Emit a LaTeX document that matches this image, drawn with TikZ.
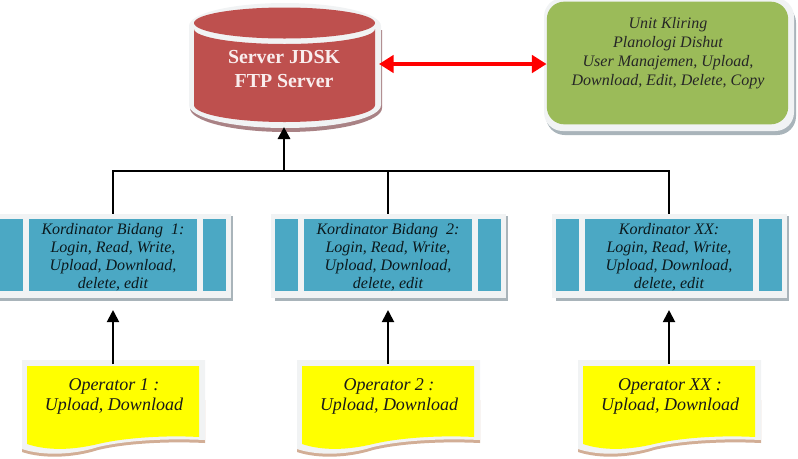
\documentclass[tikz,border=0pt]{standalone}
\usepackage{fontspec}
\setmainfont{Liberation Serif}
\usetikzlibrary{arrows.meta}
\definecolor{cred}{HTML}{BE504E}
\definecolor{cgreen}{HTML}{9BBB59}
\definecolor{cblue}{HTML}{4BA8C4}
\definecolor{rim}{HTML}{F1F3F4}
\definecolor{docshadow}{HTML}{D2AE96}
\definecolor{cylshadow}{HTML}{A98285}
\definecolor{cyellow}{HTML}{FFFF00}
\definecolor{boxshadow}{HTML}{A9B4BA}
\tikzset{
  x=0.75pt,y=-0.75pt,
  cell/.style={fill=cblue,draw=none,inner sep=0pt,minimum width=126pt,minimum height=54pt,align=center,font=\itshape\fontsize{12}{13.6}\selectfont,text=black!85!cblue},
  optext/.style={inner sep=0pt,align=center,font=\itshape\fontsize{13.5}{15}\selectfont,text=black!90},
  blackline/.style={draw=black,line width=1.5pt},
  blackarrow/.style={draw=black,line width=1.5pt,-{Triangle[length=9pt,width=9pt]}},
  redarrow/.style={draw=red,line width=3.2pt,{Triangle[length=11pt,width=13pt]}-{Triangle[length=11pt,width=13pt]}},
}
\newcommand{\kordbox}[3]{%
  \fill[boxshadow] (#1-113,216) rectangle (#1+120,301);
  \fill[rim] (#1-117,214) rectangle (#1+118,298);
  \fill[cblue] (#1-113,219) rectangle (#1-90,291);
  \fill[cblue] (#1+90,219) rectangle (#1+113,291);
  \node[cell] (#2) at (#1,255) {\rule{0pt}{11.5pt}#3};
}
\newcommand{\opdoc}[3]{%
  \fill[docshadow] (#1-91,400) -- (#1+92,400) -- (#1+92,443)
     .. controls (#1+50,441) and (#1+10,444) .. (#1-15,450)
     .. controls (#1-40,458) and (#1-70,459) .. (#1-91,452) -- cycle;
  \fill[rim] (#1-91,360) -- (#1+92,360) -- (#1+92,440)
     .. controls (#1+50,438) and (#1+10,441) .. (#1-15,447)
     .. controls (#1-40,455) and (#1-70,456) .. (#1-91,449) -- cycle;
  \fill[cyellow] (#1-86,366) -- (#1+86,366) -- (#1+86,437)
     .. controls (#1+50,435) and (#1+10,438) .. (#1-15,444)
     .. controls (#1-40,450) and (#1-65,451) .. (#1-86,444) -- cycle;
  \node[optext] (#2) at (#1+1,396) {#3};
  \coordinate (#2top) at (#1,364);
}
\begin{document}
\begin{tikzpicture}
\useasboundingbox (0,0) rectangle (798,458);
% cylinder
\fill[cylshadow] (190,30) -- (190,108) arc[start angle=180,end angle=0,x radius=96,y radius=24] -- (382,30) -- cycle;
\fill[rim] (189,26) -- (189,105) arc[start angle=180,end angle=0,x radius=96,y radius=23] -- (381,26)
  arc[start angle=0,end angle=-180,x radius=96,y radius=23] -- cycle;
\fill[cred] (194,29) arc[start angle=180,end angle=0,x radius=90.5,y radius=15] -- (375,105)
  arc[start angle=0,end angle=180,x radius=90.5,y radius=17] -- cycle;
\fill[cred] (284.5,23) ellipse[x radius=90.5,y radius=15.5];
\node[inner sep=0pt,align=center,text=white!90!cred,font=\bfseries\fontsize{14.9}{18}\selectfont] (srv) at (284,69) {Server JDSK\\FTP Server};
\coordinate (srvbottom) at (284,127);
\coordinate (srvright) at (379,64);
% green box
\fill[boxshadow,rounded corners=14pt] (546,4) rectangle (796,135);
\fill[rim,rounded corners=14pt] (544,-2) rectangle (794,131);
\node[fill=cgreen,rounded corners=13pt,inner sep=0pt,minimum width=181pt,minimum height=92pt] (unit) at (667.5,63) {};
\node[inner sep=0pt,align=center,font=\itshape\fontsize{12}{14.2}\selectfont,text=black!85] (unittext) at (668,53) {Unit Kliring\\Planologi Dishut\\User Manajemen, Upload,\\Download, Edit, Delete, Copy};
% coordinator boxes
\kordbox{113}{k1}{Kordinator Bidang\ \ 1:\\Login, Read, Write,\\Upload, Download,\\delete, edit}
\kordbox{388}{k2}{Kordinator Bidang\ \ 2:\\Login, Read, Write,\\Upload, Download,\\delete, edit}
\kordbox{669}{k3}{Kordinator XX:\\Login, Read, Write,\\Upload, Download,\\delete, edit}
% operators
\opdoc{113}{o1}{Operator 1 :\\Upload, Download}
\opdoc{388}{o2}{Operator 2 :\\Upload, Download}
\opdoc{669}{o3}{Operator XX :\\Upload, Download}
% connectors
\coordinate (bus) at (284,171);
\draw[blackline] ([yshift=3.75pt]k1.north) |- (bus);
\draw[blackline] (bus) -| ([yshift=3.75pt]k3.north);
\draw[blackline] (bus -| k2.north) -- ([yshift=3.75pt]k2.north);
\draw[blackarrow,line width=2.2pt] (bus) -- (srvbottom);
\draw[blackarrow] (o1top) -- ([yshift=-14pt]k1.south);
\draw[blackarrow] (o2top) -- ([yshift=-14pt]k2.south);
\draw[blackarrow] (o3top) -- ([yshift=-14pt]k3.south);
\draw[redarrow] (srvright) -- (unit.west |- srvright);
\end{tikzpicture}
\end{document}
